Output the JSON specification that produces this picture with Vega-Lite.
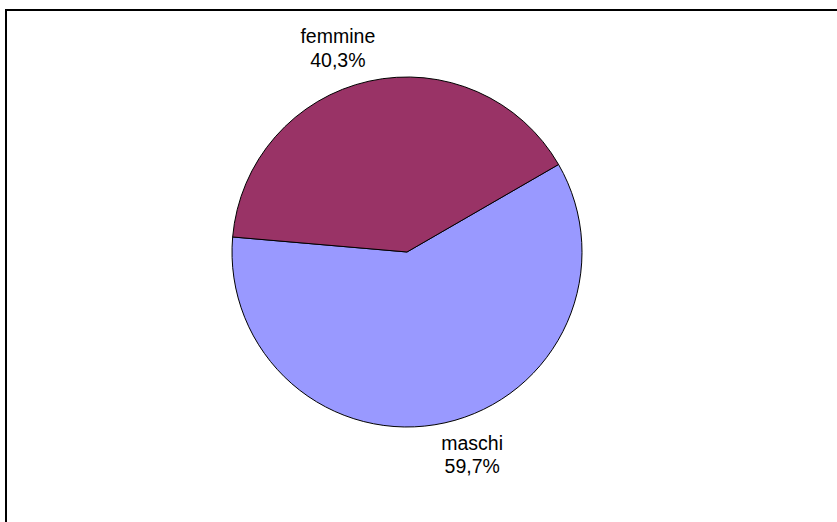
{
  "$schema": "https://vega.github.io/schema/vega-lite/v6.json",
  "autosize": {"type": "none"},
  "padding": {"left": 6, "top": 10, "right": 0, "bottom": 0},
  "width": 833,
  "height": 514,
  "background": "white",
  "config": {"view": {"stroke": "#000000", "strokeWidth": 2}},
  "data": {
    "values": [
      {"sesso": "maschi", "pct": 59.7, "label": "maschi\n59,7%"},
      {"sesso": "femmine", "pct": 40.3, "label": "femmine\n40,3%"}
    ]
  },
  "encoding": {
    "x": {"datum": 0.4814, "type": "quantitative", "scale": {"domain": [0, 1]}, "axis": null},
    "y": {"datum": 0.5292, "type": "quantitative", "scale": {"domain": [0, 1]}, "axis": null},
    "theta": {"field": "pct", "type": "quantitative", "stack": true},
    "order": {"field": "pct", "type": "quantitative", "sort": "descending"}
  },
  "layer": [
    {
      "mark": {"type": "arc", "radius": 175, "stroke": "#000000", "strokeWidth": 1},
      "encoding": {
        "theta": {"field": "pct", "type": "quantitative", "stack": true, "scale": {"range": [1.0472, 7.3304]}},
        "color": {
          "field": "sesso",
          "type": "nominal",
          "scale": {"domain": ["femmine", "maschi"], "range": ["#993366", "#9999FF"]},
          "legend": null
        }
      }
    },
    {
      "mark": {"type": "text", "radius": 214, "dy": -11.5, "dx": -2, "font": "Liberation Sans", "fontSize": 19.5, "lineHeight": 23.5, "lineBreak": "\n", "color": "#000000", "align": "center", "baseline": "middle"},
      "encoding": {
        "theta": {"field": "pct", "type": "quantitative", "stack": true, "scale": {"range": [0.9468, 7.2300]}},
        "text": {"field": "label", "type": "nominal"}
      }
    }
  ],
  "resolve": {"scale": {"theta": "independent"}}
}
